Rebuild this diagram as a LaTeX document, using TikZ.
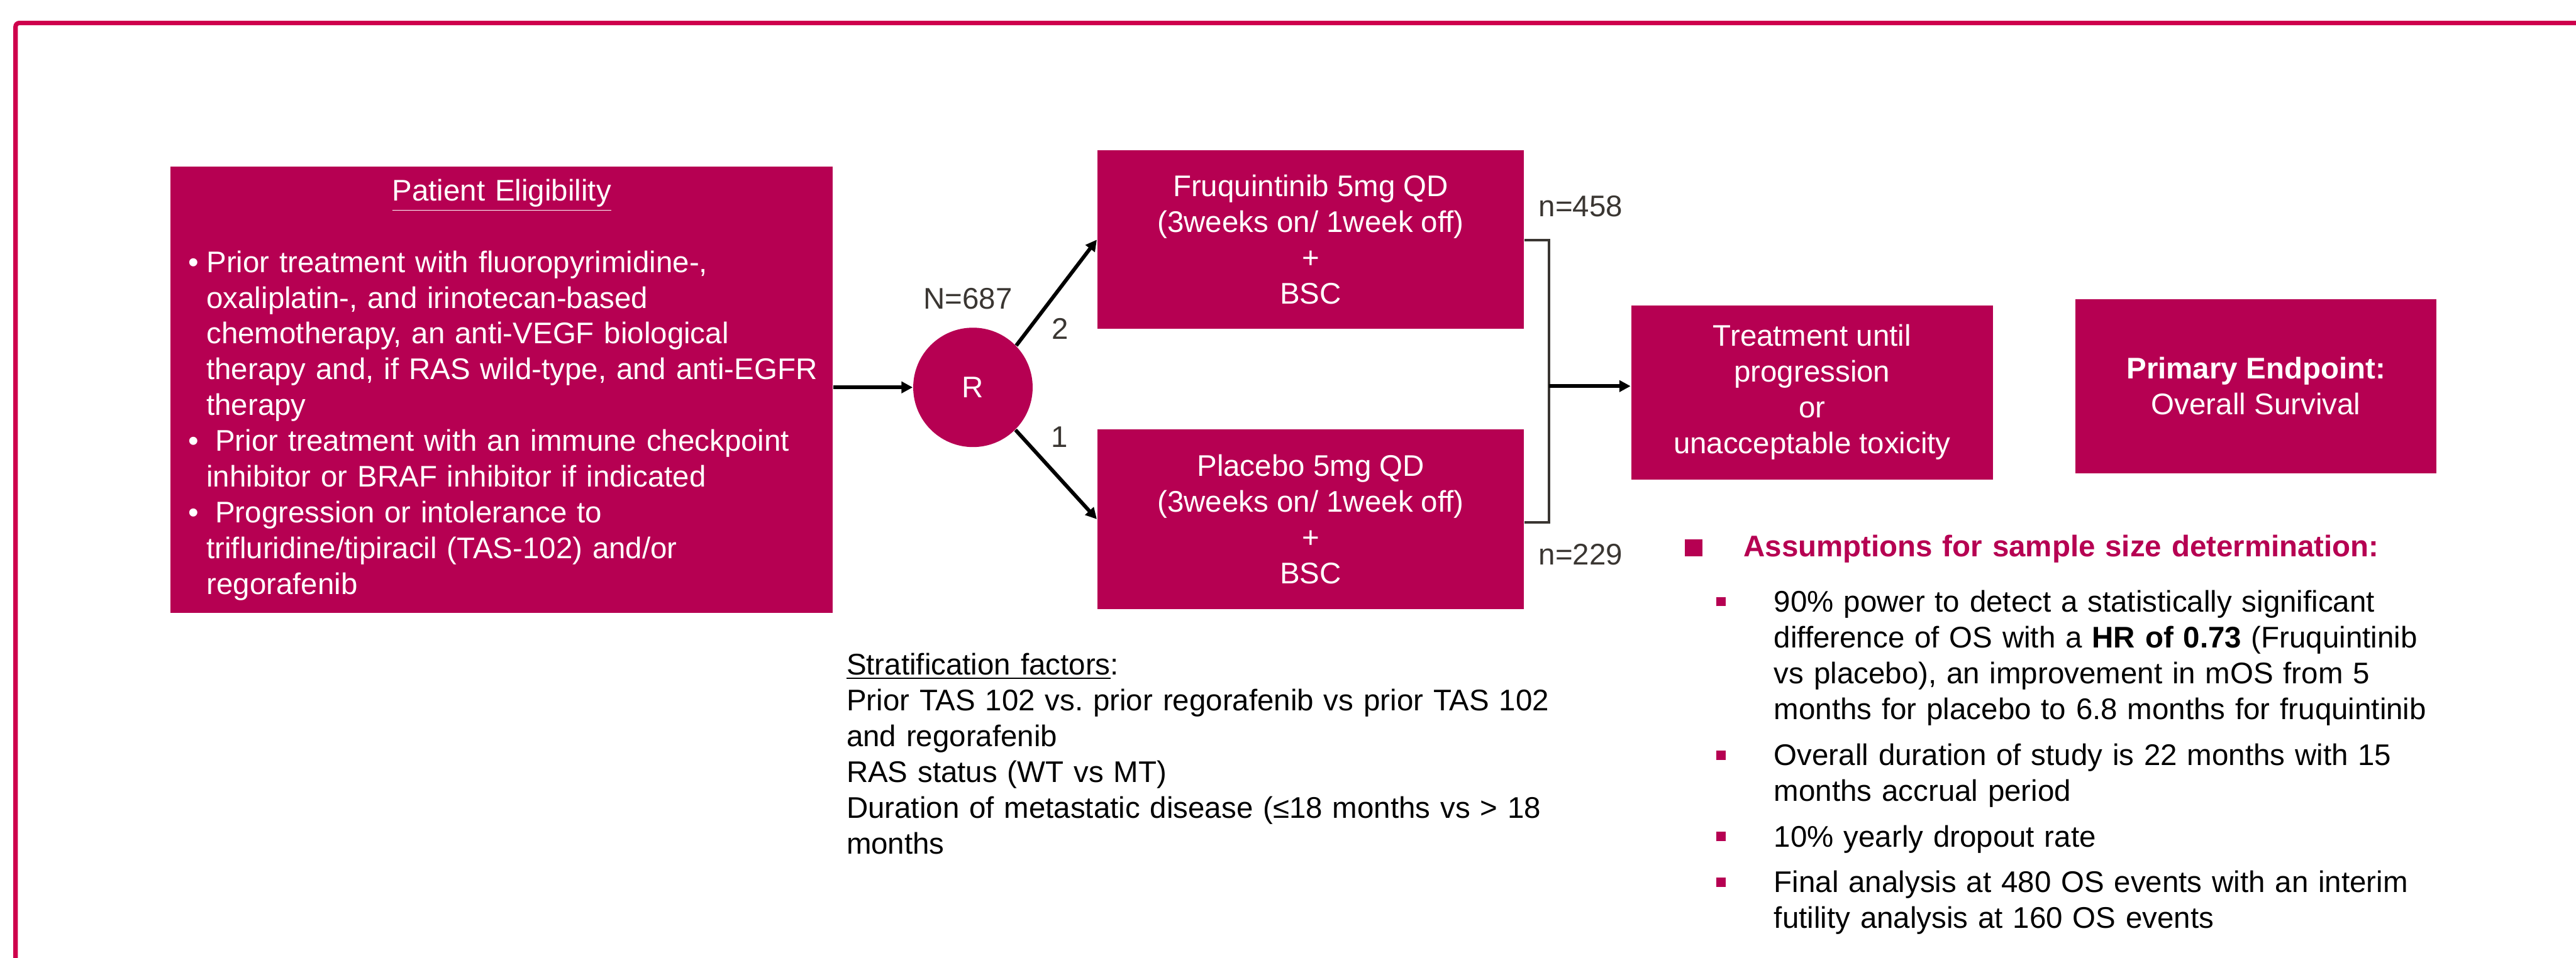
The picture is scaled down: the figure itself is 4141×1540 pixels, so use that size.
\documentclass[tikz,border=0pt]{standalone}
\usepackage{fontspec}
\setmainfont{Liberation Sans}
\usepackage{xcolor}
\usepackage{tikz}
\usetikzlibrary{arrows.meta}
\definecolor{boxred}{RGB}{182,0,82}
\definecolor{framered}{RGB}{206,0,76}
\definecolor{labelgray}{RGB}{58,54,50}
\tikzstyle{none}=[inner sep=0pt]
\tikzstyle{redbox}=[rectangle,fill=boxred,text=white,align=center,inner sep=0pt]
\tikzstyle{randomise}=[circle,fill=boxred,text=white,minimum size=48pt,inner sep=0pt]
\tikzstyle{samplesize}=[text=labelgray,inner sep=0pt]
\tikzstyle{textblock}=[anchor=base west,align=left,inner sep=0pt,text width=300pt]
\tikzstyle{inarrow}=[-{Triangle[length=4.5pt,width=4.5pt]},line width=1.5pt]
\tikzstyle{bracket}=[draw=labelgray,line width=1.1pt]
\tikzstyle{frame}=[draw=framered,line width=1.8pt,rounded corners=1.5pt]
\pgfdeclarelayer{edgelayer}
\pgfdeclarelayer{nodelayer}
\pgfsetlayers{edgelayer,nodelayer,main}
\newcommand{\sqitem}{\makebox[23.25pt][l]{\textcolor{boxred}{\rule[2.25pt]{3.75pt}{3.75pt}}}}
\newcommand{\sqindent}{\hspace*{23.25pt}}
\begin{document}
\begin{tikzpicture}[x=0.25pt,y=-0.25pt,font=\fontsize{12}{14.4}\selectfont]
	\useasboundingbox (0,0) rectangle (4141,1540);
	\begin{pgfonlayer}{nodelayer}
		\node [style=redbox, minimum width=266.25pt, minimum height=179.5pt, text width=251.75pt, align=left] (0) at (806.5, 627) {\hyphenpenalty=10000\exhyphenpenalty=10000
			\makebox[\linewidth]{\underline{Patient Eligibility}}\\[14.4pt]
			\makebox[7.25pt][l]{\textbullet}Prior treatment with fluoropyrimidine-,\\
			\hspace*{7.25pt}oxaliplatin-, and irinotecan-based\\
			\hspace*{7.25pt}chemotherapy, an anti-VEGF biological\\
			\hspace*{7.25pt}\mbox{therapy and, if RAS wild-type, and anti-EGFR}\\
			\hspace*{7.25pt}therapy\\
			\makebox[10.75pt][l]{\textbullet}Prior treatment with an immune checkpoint\\
			\hspace*{7.25pt}inhibitor or BRAF inhibitor if indicated\\
			\makebox[10.75pt][l]{\textbullet}Progression or intolerance to\\
			\hspace*{7.25pt}trifluridine/tipiracil (TAS-102) and/or\\
			\hspace*{7.25pt}regorafenib};
		\node [style=randomise] (1) at (1564, 623) {R};
		\node [style=redbox, minimum width=171.5pt, minimum height=71.75pt] (2) at (2107, 385.5) {Fruquintinib 5mg QD\\(3weeks on/ 1week off)\\+\\BSC};
		\node [style=redbox, minimum width=171.5pt, minimum height=72.5pt] (3) at (2107, 835) {Placebo 5mg QD\\(3weeks on/ 1week off)\\+\\BSC};
		\node [style=redbox, minimum width=145.5pt, minimum height=70pt] (4) at (2913, 631) {Treatment until\\progression\\or\\unacceptable toxicity};
		\node [style=redbox, minimum width=145.25pt, minimum height=70pt] (5) at (3626.5, 621) {\textbf{Primary Endpoint:}\\Overall Survival};
		\node [style=none] (6) at (2490, 386) {};
		\node [style=none] (7) at (2490, 840) {};
		\node [style=none] (8) at (2490, 621) {};
		\node [style=samplesize] (9) at (1556, 480) {N=687};
		\node [style=samplesize] (10) at (1704, 529) {2};
		\node [style=samplesize] (11) at (1703, 703) {1};
		\node [style=samplesize] (12) at (2541, 332) {n=458};
		\node [style=samplesize] (13) at (2541, 892) {n=229};
		\node [style=textblock] (14) at (1360, 1085) {\underline{Stratification factors}:\\
			Prior TAS 102 vs.\ prior regorafenib vs prior TAS 102\\
			and regorafenib\\
			RAS status (WT vs MT)\\
			Duration of metastatic disease (≤18 months vs > 18\\
			months};
		\node [style=textblock] (15) at (2708, 895) {\textcolor{boxred}{\rule{7pt}{7pt}\hspace{16.5pt}\textbf{Assumptions for sample size determination:}}};
		\node [style=textblock] (16) at (2758, 984) {\sqitem 90\% power to detect a statistically significant\\
			\sqindent difference of OS with a \textbf{HR of 0.73} (Fruquintinib\\
			\sqindent vs placebo), an improvement in mOS from 5\\
			\sqindent months for placebo to 6.8 months for fruquintinib};
		\node [style=textblock] (17) at (2758, 1231) {\sqitem Overall duration of study is 22 months with 15\\
			\sqindent months accrual period};
		\node [style=textblock] (18) at (2758, 1362) {\sqitem 10\% yearly dropout rate};
		\node [style=textblock] (19) at (2758, 1435) {\sqitem Final analysis at 480 OS events with an interim\\
			\sqindent futility analysis at 160 OS events};
	\end{pgfonlayer}
	\begin{pgfonlayer}{edgelayer}
		\begin{scope}
			\clip (0, 0) rectangle (4141, 1540);
			\draw [style=frame] (25, 37) rectangle (4300, 1700);
		\end{scope}
		\draw [style=inarrow] (0.east |- 1.west) to (1.west);
		\draw [style=inarrow] (1.44) to (2.west);
		\draw [style=inarrow] (1.-45) to (3.west);
		\draw [style=bracket] (2.east |- 6) -- (6.center) -- (7.center) -- (3.east |- 7);
		\draw [style=inarrow] (8.center) to (4.west |- 8);
	\end{pgfonlayer}
\end{tikzpicture}
\end{document}
